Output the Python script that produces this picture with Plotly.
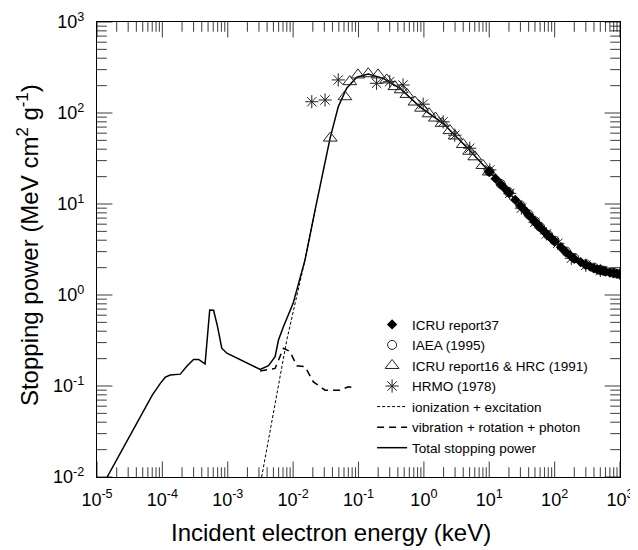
import plotly.graph_objects as go

# ---- data ----
TOTAL_E = [1.43e-5, 1.8e-5, 2.9e-5, 4.1e-5, 5.5e-5, 7.0e-5, 9.3e-5, 1.11e-4, 1.32e-4, 1.88e-4,
           2.38e-4, 3.0e-4, 3.58e-4, 4.5e-4, 5.3e-4, 6.07e-4, 6.98e-4, 8.1e-4, 9.7e-4, 1.74e-3,
           3.13e-3, 4.2e-3, 5.3e-3, 5.97e-3, 7.1e-3, 1.0e-2, 1.52e-2, 2.17e-2, 3.67e-2, 4.9e-2,
           6.6e-2, 9.4e-2, 0.141, 0.239, 0.43, 0.87, 1.97, 5.0, 10.2, 20.0,
           30.0, 50.0, 75.0, 112.0, 151.0, 200.0, 305.0, 500.0, 617.0, 1000.0]
TOTAL_S = [0.010, 0.0135, 0.0255, 0.0389, 0.057, 0.0796, 0.107, 0.125, 0.132, 0.135,
           0.166, 0.196, 0.196, 0.175, 0.684, 0.68, 0.449, 0.26, 0.229, 0.185,
           0.152, 0.167, 0.21, 0.32, 0.449, 0.81, 2.43, 8.6, 52.7, 117,
           187, 247, 268, 240, 187, 117, 77, 39, 22.6, 13.3,
           9.6, 6.4, 4.7, 3.6, 2.95, 2.5, 2.14, 1.87, 1.80, 1.69]

ION_E = [3.3e-3, 5.0e-3, 8.0e-3, 1.52e-2, 2.17e-2]
ION_S = [0.010, 0.050, 0.32, 2.43, 8.6]

VIB_E = [3.13e-3, 4.2e-3, 5.3e-3, 7.1e-3, 8.9e-3, 0.0114, 0.0152, 0.0204, 0.0308, 0.052, 0.070, 0.089]
VIB_S = [0.146, 0.150, 0.156, 0.26, 0.24, 0.167, 0.163, 0.111, 0.090, 0.090, 0.098, 0.095]

ICRU37_E = [10, 12.5, 15, 17.5, 20, 25, 30, 35, 40, 45, 50, 55, 60, 70, 80, 90, 100,
            125, 150, 175, 200, 250, 300, 350, 400, 450, 500, 550, 600, 700, 800, 900, 1000]
ICRU37_S = [22.6, 19.0, 16.5, 14.7, 13.3, 11.1, 9.6, 8.5, 7.6, 6.95, 6.4, 5.95, 5.55, 4.95, 4.5, 4.15, 3.9,
            3.35, 2.95, 2.7, 2.5, 2.3, 2.15, 2.05, 1.97, 1.91, 1.87, 1.84, 1.81, 1.77, 1.74, 1.71, 1.69]

IAEA_E = [10, 15, 20, 30, 40, 50, 60, 80, 100, 150, 200, 300, 400, 500, 600, 800, 1000]
IAEA_S = [22.8, 16.6, 13.4, 9.7, 7.7, 6.45, 5.6, 4.55, 3.95, 3.0, 2.55, 2.18, 2.0, 1.89, 1.83, 1.75, 1.70]

ICRU16_E = [0.037, 0.062, 0.0735, 0.098, 0.141, 0.199, 0.27, 0.36, 0.45, 0.55, 0.73,
            0.92, 1.2, 1.5, 1.9, 2.5, 3.0, 4.0, 5.0, 6.0, 8.0, 10.0]
ICRU16_S = [53, 151, 221, 262, 270, 262, 231, 195, 180, 160, 132,
            113, 98, 88, 77, 64, 56, 45, 38, 33, 26.5, 22.5]

HRMO_E = [0.0193, 0.0308, 0.049, 0.189, 0.30, 0.48, 0.975, 1.97, 2.97, 5.04, 10.2,
          20.6, 31, 50, 75, 112, 180, 300, 500, 1000]
HRMO_S = [133, 139, 231, 212, 221, 203, 125, 80, 57, 41, 23.7,
          13.1, 9.0, 6.3, 4.7, 3.7, 2.53, 2.12, 1.86, 1.72]

X_DECADES = [-5, -4, -3, -2, -1, 0, 1, 2, 3]
Y_DECADES = [-2, -1, 0, 1, 2, 3]

X_TITLE = "Incident electron energy (keV)"
Y_TITLE = "Stopping power (MeV cm<sup>2</sup> g<sup>-1</sup>)"

FONT = "Arial, Liberation Sans, sans-serif"
MAJOR_LEN = 11
MINOR_LEN = 7


def tick_list(decades):
    """Tick values (decades plus 2..9 minors) and marker sizes (twice the inside length)."""
    vals, sizes = [], []
    for d in decades:
        vals.append(10.0 ** d)
        sizes.append(2 * MAJOR_LEN)
        if d != decades[-1]:
            for m in range(2, 10):
                vals.append(m * 10.0 ** d)
                sizes.append(2 * MINOR_LEN)
    return vals, sizes


fig = go.Figure()

fig.add_trace(go.Scatter(x=TOTAL_E, y=TOTAL_S, mode="lines", name="Total stopping power",
                         line=dict(color="black", width=1.5), legendrank=7))
fig.add_trace(go.Scatter(x=ION_E, y=ION_S, mode="lines", name="ionization + excitation",
                         line=dict(color="black", width=1, dash="3px,2px"), legendrank=5))
fig.add_trace(go.Scatter(x=VIB_E, y=VIB_S, mode="lines", name="vibration + rotation + photon",
                         line=dict(color="black", width=1.5, dash="7px,5px"), legendrank=6))

fig.add_trace(go.Scatter(x=ICRU16_E, y=ICRU16_S, mode="markers", name="ICRU report16 & HRC (1991)",
                         marker=dict(symbol="triangle-up-open", size=12, color="#222",
                                     line=dict(width=1)), legendrank=3))
fig.add_trace(go.Scatter(x=HRMO_E, y=HRMO_S, mode="markers", name="HRMO (1978)",
                         marker=dict(symbol="asterisk-open", size=11, color="#222",
                                     line=dict(width=1)), legendrank=4))
fig.add_trace(go.Scatter(x=IAEA_E, y=IAEA_S, mode="markers", name="IAEA (1995)",
                         marker=dict(symbol="circle-open", size=9, color="#222",
                                     line=dict(width=1)), legendrank=2))
fig.add_trace(go.Scatter(x=ICRU37_E, y=ICRU37_S, mode="markers", name="ICRU report37",
                         marker=dict(symbol="diamond", size=8, color="black"), legendrank=1))

# inside tick marks on all four frame sides: line markers centred on the frame,
# the outer half is clipped away by the plot area
x_min, x_max = 10.0 ** X_DECADES[0], 10.0 ** X_DECADES[-1]
y_min, y_max = 10.0 ** Y_DECADES[0], 10.0 ** Y_DECADES[-1]
xv, xs = tick_list(X_DECADES)
yv, ys = tick_list(Y_DECADES)
tick_style = dict(mode="markers", showlegend=False, hoverinfo="skip", cliponaxis=True)
for yy in (y_min, y_max):
    fig.add_trace(go.Scatter(x=xv, y=[yy] * len(xv),
                             marker=dict(symbol="line-ns-open", size=xs, color="black",
                                         line=dict(width=1.1, color="black")), **tick_style))
for xx in (x_min, x_max):
    fig.add_trace(go.Scatter(x=[xx] * len(yv), y=yv,
                             marker=dict(symbol="line-ew-open", size=ys, color="black",
                                         line=dict(width=1.1, color="black")), **tick_style))

axis_common = dict(
    type="log", tickmode="array", automargin=False,
    showline=True, linecolor="black", linewidth=1.2, mirror=True,
    ticks="", showgrid=False, zeroline=False,
    tickfont=dict(family=FONT, size=18, color="black"),
)

fig.update_layout(
    xaxis=dict(range=[-5, 3], tickvals=[10.0 ** d for d in X_DECADES],
               ticktext=["10<sup>%d</sup>" % d for d in X_DECADES], ticklabelstandoff=6, **axis_common),
    yaxis=dict(range=[-2, 3], tickvals=[10.0 ** d for d in Y_DECADES],
               ticktext=["10<sup>%d</sup>" % d for d in Y_DECADES], ticklabelstandoff=8, **axis_common),
    annotations=[
        dict(text=X_TITLE, xref="paper", yref="paper", x=0.4466, y=-0.121,
             xanchor="center", yanchor="middle", showarrow=False,
             font=dict(family=FONT, size=24, color="black")),
        dict(text=Y_TITLE, xref="paper", yref="paper", x=-0.1317, y=0.51,
             xanchor="center", yanchor="middle", showarrow=False, textangle=-90,
             font=dict(family=FONT, size=24, color="black")),
    ],
    # page body adds an 8px offset, so the figure is 8px smaller than the window
    width=630, height=542,
    margin=dict(l=89, r=18, t=14, b=73),
    plot_bgcolor="white", paper_bgcolor="white",
    font=dict(family=FONT, color="black"),
    legend=dict(x=0.526, y=0.369, xanchor="left", yanchor="top",
                font=dict(family=FONT, size=13.5, color="black"),
                bgcolor="rgba(0,0,0,0)", tracegroupgap=0, itemwidth=30),
)

fig.write_html("out.html")
